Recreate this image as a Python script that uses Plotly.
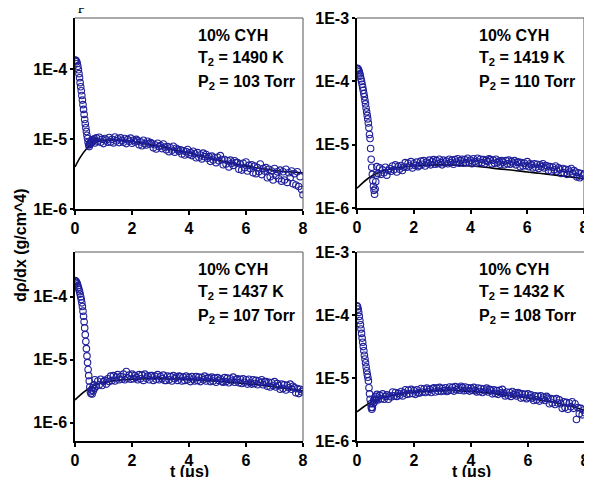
import numpy as np
import plotly.graph_objects as go

# ---------------- data (values in units of 1e-6 g/cm^4) ----------------
T_SPIKE = np.round(np.arange(0.0, 0.69, 0.02), 2)     # 0.00 .. 0.68 us
T_TAIL = np.round(np.arange(0.70, 8.001, 0.05), 2)    # 0.70 .. 8.00 us
MODEL_T = [0, 0.2, 0.4, 0.6, 0.8, 1.0, 1.5, 2.0, 2.5, 3.0, 3.5, 4.0,
           4.5, 5.0, 5.5, 6.0, 6.5, 7.0, 7.5, 8.0]

A_SPIKE = [135, 134, 131, 127, 120, 110, 98, 86, 75, 64, 56, 49, 42, 36, 31,
           26.5, 22.5, 19, 16.5, 14.5, 12.8, 11.3, 10.2, 9.0, 8.2, 7.8, 8.4,
           9.0, 8.7, 9.4, 9.1, 9.8, 9.3, 9.6, 10.1]
A_TAIL = [8.8, 10.4, 9.3, 10.6, 9.0, 9.9, 8.6, 10.2, 9.7, 9.0,
          10.5, 9.1, 9.9, 8.8, 10.7, 9.4, 10.1, 8.9, 10.4, 9.5,
          9.0, 10.2, 8.6, 9.8, 9.3, 10.3, 8.7, 9.6, 9.1, 9.9,
          9.4, 8.3, 9.1, 8.0, 9.6, 8.6, 8.2, 9.3, 8.5, 8.9,
          8.6, 7.5, 8.3, 7.2, 8.7, 7.8, 8.1, 7.3, 8.5, 7.7,
          7.0, 7.8, 6.6, 7.5, 6.9, 7.9, 6.5, 7.4, 7.1, 6.7,
          7.0, 6.1, 6.8, 5.9, 6.6, 7.1, 6.0, 6.4, 5.8, 6.7,
          6.2, 5.4, 6.4, 5.5, 5.9, 5.2, 6.3, 5.6, 6.0, 5.3,
          5.6, 4.8, 5.7, 5.0, 5.4, 4.6, 5.5, 4.9, 5.8, 5.1,
          4.3, 5.1, 4.4, 4.9, 4.0, 5.0, 4.5, 4.2, 4.9, 4.6,
          4.6, 3.7, 4.4, 3.6, 4.5, 3.9, 4.7, 3.5, 4.2, 3.8,
          4.3, 3.3, 4.1, 3.2, 3.9, 3.4, 4.4, 3.1, 3.8, 3.5,
          3.9, 2.8, 3.7, 2.9, 3.5, 2.6, 3.8, 3.0, 3.4, 2.7,
          3.6, 2.5, 3.4, 2.6, 3.7, 2.4, 3.3, 2.8, 3.5, 2.3,
          3.2, 2.2, 3.4, 2.1, 2.9, 1.9, 1.6]
A_MODEL = [4.0, 5.6, 7.2, 8.5, 9.2, 9.6, 9.6, 9.2, 8.5, 7.8, 7.0, 6.3, 5.6,
           5.0, 4.5, 4.1, 3.8, 3.55, 3.4, 3.3]

B_SPIKE = [160, 159, 156, 150, 142, 132, 121, 110, 100, 90, 81, 72, 64, 57, 50,
           44, 38, 33, 29, 25.5, 22, 18.5, 14.5, 12.5, 8.7, 5.9, 4.4, 3.4, 2.7,
           2.2, 1.9, 1.65, 2.0, 2.6, 3.3]
B_TAIL = [4.5, 3.5, 4.3, 3.4, 4.0, 3.6, 4.4, 3.3, 3.9, 4.2,
          3.8, 4.6, 4.0, 4.8, 3.7, 4.5, 4.1, 4.7, 3.9, 4.4,
          5.2, 4.4, 5.1, 4.6, 5.4, 4.3, 5.0, 4.7, 5.3, 4.5,
          4.7, 5.5, 4.9, 5.6, 4.6, 5.3, 5.0, 5.7, 4.8, 5.4,
          5.8, 4.9, 5.6, 5.0, 5.9, 5.2, 4.8, 5.7, 5.1, 5.5,
          5.0, 5.9, 5.2, 5.7, 4.9, 5.8, 5.3, 6.0, 5.1, 5.6,
          5.9, 5.1, 5.8, 5.2, 6.1, 5.3, 5.7, 5.0, 6.0, 5.4,
          5.1, 6.1, 5.3, 5.9, 5.2, 5.8, 5.0, 5.7, 5.4, 6.0,
          5.8, 5.0, 5.7, 5.1, 5.9, 5.2, 5.5, 4.9, 5.6, 5.3,
          4.8, 5.6, 5.0, 5.7, 4.9, 5.4, 5.1, 5.6, 4.8, 5.3,
          5.3, 4.5, 5.2, 4.6, 5.1, 4.7, 5.4, 4.5, 5.0, 4.8,
          4.3, 5.0, 4.4, 4.9, 4.2, 4.8, 4.5, 5.0, 4.3, 4.7,
          4.6, 3.9, 4.5, 3.8, 4.4, 4.0, 4.6, 3.8, 4.3, 4.1,
          3.5, 4.2, 3.6, 4.1, 3.4, 4.0, 3.7, 4.2, 3.5, 3.9,
          3.7, 3.1, 3.6, 3.0, 3.5, 3.2, 3.4]
B_MODEL = [2.05, 2.5, 2.95, 3.35, 3.7, 3.95, 4.35, 4.6, 4.75, 4.8, 4.75, 4.6,
           4.4, 4.15, 3.95, 3.7, 3.5, 3.3, 3.1, 2.9]

C_SPIKE = [180, 178, 174, 168, 160, 150, 140, 130, 120, 110, 100, 90, 80, 70,
           59, 49, 40, 32, 25, 19.5, 15, 11.5, 9.0, 7.0, 5.6, 4.6, 3.7, 3.1,
           2.9, 3.3, 2.85, 3.6, 3.2, 4.0, 3.5]
C_TAIL = [4.8, 3.8, 4.6, 4.0, 4.9, 3.9, 4.5, 4.7, 4.1, 5.0,
          4.5, 5.5, 4.7, 5.6, 4.6, 5.3, 5.8, 4.8, 5.4, 4.9,
          5.9, 4.8, 6.5, 5.1, 5.7, 4.9, 5.9, 5.0, 5.6, 5.2,
          4.8, 5.8, 5.0, 5.7, 4.7, 5.9, 5.1, 5.5, 4.8, 5.6,
          5.6, 4.7, 5.5, 4.9, 5.8, 4.8, 5.4, 5.0, 5.7, 4.7,
          4.7, 5.5, 4.8, 5.4, 4.6, 5.6, 5.0, 5.3, 4.7, 5.5,
          5.4, 4.6, 5.3, 4.7, 5.5, 4.8, 5.2, 4.5, 5.4, 4.9,
          4.6, 5.4, 4.7, 5.3, 4.5, 5.2, 4.8, 5.5, 4.6, 5.1,
          5.2, 4.5, 5.3, 4.6, 5.1, 4.4, 5.2, 4.7, 5.0, 4.5,
          4.4, 5.2, 4.5, 5.1, 4.3, 5.0, 4.6, 5.3, 4.4, 4.9,
          5.0, 4.3, 4.9, 4.2, 5.0, 4.4, 4.8, 4.1, 4.9, 4.3,
          4.1, 4.8, 4.2, 4.7, 4.0, 4.6, 4.3, 4.8, 4.0, 4.5,
          4.5, 3.8, 4.4, 3.7, 4.3, 3.9, 4.5, 3.7, 4.2, 3.9,
          3.4, 4.1, 3.5, 4.0, 3.3, 3.9, 3.6, 4.1, 3.4, 3.8,
          3.6, 3.0, 3.5, 2.9, 3.4, 3.1, 3.3]
C_MODEL = [2.3, 2.8, 3.3, 3.75, 4.1, 4.35, 4.7, 4.9, 5.0, 5.0, 4.95, 4.85,
           4.7, 4.55, 4.35, 4.15, 3.95, 3.7, 3.45, 3.2]

D_SPIKE = [140, 135, 124, 110, 95, 82, 70, 60, 51, 43, 37, 31.5, 27, 23, 20,
           17.5, 15, 13, 11.5, 10.3, 9.0, 7.0, 5.6, 4.6, 3.9, 3.4, 3.2, 3.4,
           3.9, 4.4, 4.1, 4.8, 4.5, 5.1, 4.6]
D_TAIL = [5.5, 4.5, 5.3, 4.7, 5.6, 4.6, 5.1, 5.4, 4.6, 5.2,
          5.0, 6.0, 5.2, 5.9, 5.1, 5.7, 5.3, 6.1, 5.2, 5.8,
          6.5, 5.5, 6.4, 5.6, 6.6, 5.7, 6.3, 5.5, 6.5, 5.8,
          5.8, 6.8, 6.0, 6.7, 5.9, 6.9, 6.1, 6.6, 5.9, 6.8,
          7.0, 6.0, 6.9, 6.2, 7.1, 6.1, 6.8, 6.3, 7.0, 6.1,
          6.3, 7.2, 6.4, 7.1, 6.2, 7.3, 6.5, 7.0, 6.4, 7.4,
          7.1, 6.3, 7.2, 6.4, 7.0, 6.2, 6.9, 6.4, 7.1, 6.3,
          6.0, 6.9, 6.1, 6.8, 5.9, 6.7, 6.2, 6.9, 6.0, 6.6,
          6.4, 5.6, 6.5, 5.7, 6.3, 5.5, 6.4, 5.8, 6.6, 5.7,
          5.2, 6.0, 5.3, 5.9, 5.1, 6.1, 5.4, 5.8, 5.2, 5.9,
          5.7, 4.8, 5.6, 4.9, 5.5, 4.7, 5.6, 4.9, 5.4, 4.8,
          4.4, 5.2, 4.5, 5.1, 4.3, 5.2, 4.6, 5.0, 4.4, 5.1,
          4.8, 3.9, 4.7, 4.0, 4.6, 3.8, 4.7, 4.0, 4.5, 3.9,
          3.3, 4.2, 3.4, 4.1, 3.2, 4.0, 3.5, 4.2, 3.3, 3.9,
          2.2, 3.4, 2.7, 3.3, 2.6, 3.1, 2.8]
D_MODEL = [2.9, 3.4, 3.9, 4.35, 4.7, 5.0, 5.55, 5.95, 6.2, 6.3, 6.3, 6.1, 5.85,
           5.5, 5.15, 4.8, 4.4, 4.0, 3.55, 3.05]

MIXTURE = "10% CYH"
T2_LABELS = ["1490", "1419", "1437", "1432"]
P2_LABELS = ["103", "110", "107", "108"]
X_TICKS = [0, 2, 4, 6, 8]
Y_TICKVALS = [1e-6, 1e-5, 1e-4, 1e-3]
Y_TICKTEXT = ["1E-6", "1E-5", "1E-4", "1E-3"]
UNIT = 1e-6

# ---------------- layout geometry ----------------
# The page body has an 8 px margin, so the figure is sized/placed to
# compensate; positions below are given in window pixels.
WIN_W, WIN_H = 592, 477
OFF = 8
FW, FH = WIN_W - OFF, WIN_H - OFF


def px(X):
    return (X - OFF) / FW


def py(Y):
    return 1 - (Y - OFF) / FH


FONT = "Liberation Sans, Arial, sans-serif"
MARKER_COLOR = "#1f1f9a"

panels = [
    dict(spike=A_SPIKE, tail=A_TAIL, model=A_MODEL, bx=(75, 303), by=(18, 209), yr=[-6, -3.27]),
    dict(spike=B_SPIKE, tail=B_TAIL, model=B_MODEL, bx=(357, 584), by=(18, 208), yr=[-6, -3]),
    dict(spike=C_SPIKE, tail=C_TAIL, model=C_MODEL, bx=(75, 303), by=(252, 441), yr=[-6.29, -3.29]),
    dict(spike=D_SPIKE, tail=D_TAIL, model=D_MODEL, bx=(357, 585), by=(252, 441), yr=[-6, -3]),
]
label_pos = [(196, 35), (477, 35), (196, 269), (477, 269)]
LINE_DY = 23.7

fig = go.Figure()
shapes = []
annotations = []
for i, p in enumerate(panels):
    n = "" if i == 0 else str(i + 1)
    xa, ya = "x" + n, "y" + n
    t_all = np.concatenate([T_SPIKE, T_TAIL])
    v_all = np.array(list(p["spike"]) + list(p["tail"])) * UNIT
    fig.add_trace(go.Scatter(
        x=MODEL_T, y=np.array(p["model"]) * UNIT, mode="lines",
        line=dict(color="black", width=1.6, shape="spline", smoothing=1.0),
        xaxis=xa, yaxis=ya, showlegend=False, hoverinfo="skip"))
    fig.add_trace(go.Scatter(
        x=t_all, y=v_all, mode="markers",
        marker=dict(symbol="circle-open", size=6.5, color=MARKER_COLOR,
                    line=dict(width=1.1, color=MARKER_COLOR)),
        xaxis=xa, yaxis=ya, showlegend=False))

    axfont = dict(family=FONT, size=16, color="black", weight="bold")
    x0, x1 = p["bx"]
    y0, y1 = p["by"]
    fig.layout["xaxis" + n] = dict(
        domain=[px(x0), px(x1)], anchor=ya, range=[0, 8], automargin=False,
        tickvals=X_TICKS, ticks="outside", ticklen=4, tickwidth=1.5, tickcolor="black",
        showline=True, linecolor="black", linewidth=1.5, mirror=False,
        showgrid=False, zeroline=False, tickfont=axfont)
    fig.layout["yaxis" + n] = dict(
        domain=[py(y1), py(y0)], anchor=xa, type="log", range=p["yr"],
        automargin=False,
        tickvals=Y_TICKVALS, ticktext=Y_TICKTEXT, ticks="outside", ticklen=3,
        tickwidth=1.5, tickcolor="black",
        showline=True, linecolor="black", linewidth=1.5, mirror=False,
        showgrid=False, zeroline=False, tickfont=axfont)
    # thin grey top/right frame lines
    shapes.append(dict(type="line", xref=xa + " domain", yref=ya + " domain",
                       x0=0, x1=1, y0=1, y1=1, line=dict(color="#555555", width=1)))
    shapes.append(dict(type="line", xref=xa + " domain", yref=ya + " domain",
                       x0=1, x1=1, y0=0, y1=1, line=dict(color="#555555", width=1)))

    lx, ly = label_pos[i]
    lines = [MIXTURE,
             "T<sub>2</sub> = %s K" % T2_LABELS[i],
             "P<sub>2</sub> = %s Torr" % P2_LABELS[i]]
    for k, txt in enumerate(lines):
        annotations.append(dict(
            xref="paper", yref="paper", x=px(lx), y=py(ly + k * LINE_DY),
            xanchor="left", yanchor="middle", text=txt, showarrow=False,
            font=dict(family=FONT, size=16, color="black", weight="bold")))

# axis titles
annotations.append(dict(xref="paper", yref="paper", x=px(20), y=py(246),
                        text="dρ/dx (g/cm^4)", textangle=-90, showarrow=False,
                        xanchor="center", yanchor="middle",
                        font=dict(family=FONT, size=16, color="black", weight="bold")))
for cx in (189, 471):
    annotations.append(dict(xref="paper", yref="paper", x=px(cx), y=py(471),
                            text="t (μs)", showarrow=False, xanchor="center",
                            yanchor="middle",
                            font=dict(family=FONT, size=16, color="black", weight="bold")))
# clipped glyph fragment at the top edge of the original figure
annotations.append(dict(xref="paper", yref="paper", x=px(82), y=py(4),
                        text="p", showarrow=False, xanchor="center", yanchor="middle",
                        font=dict(family="Liberation Serif, serif", size=16, color="black")))

fig.update_layout(width=FW, height=FH,
                  margin=dict(l=0, r=0, t=0, b=0, pad=0, autoexpand=False),
                  paper_bgcolor="white", plot_bgcolor="white",
                  shapes=shapes, annotations=annotations, showlegend=False)
fig.write_html("out.html")
